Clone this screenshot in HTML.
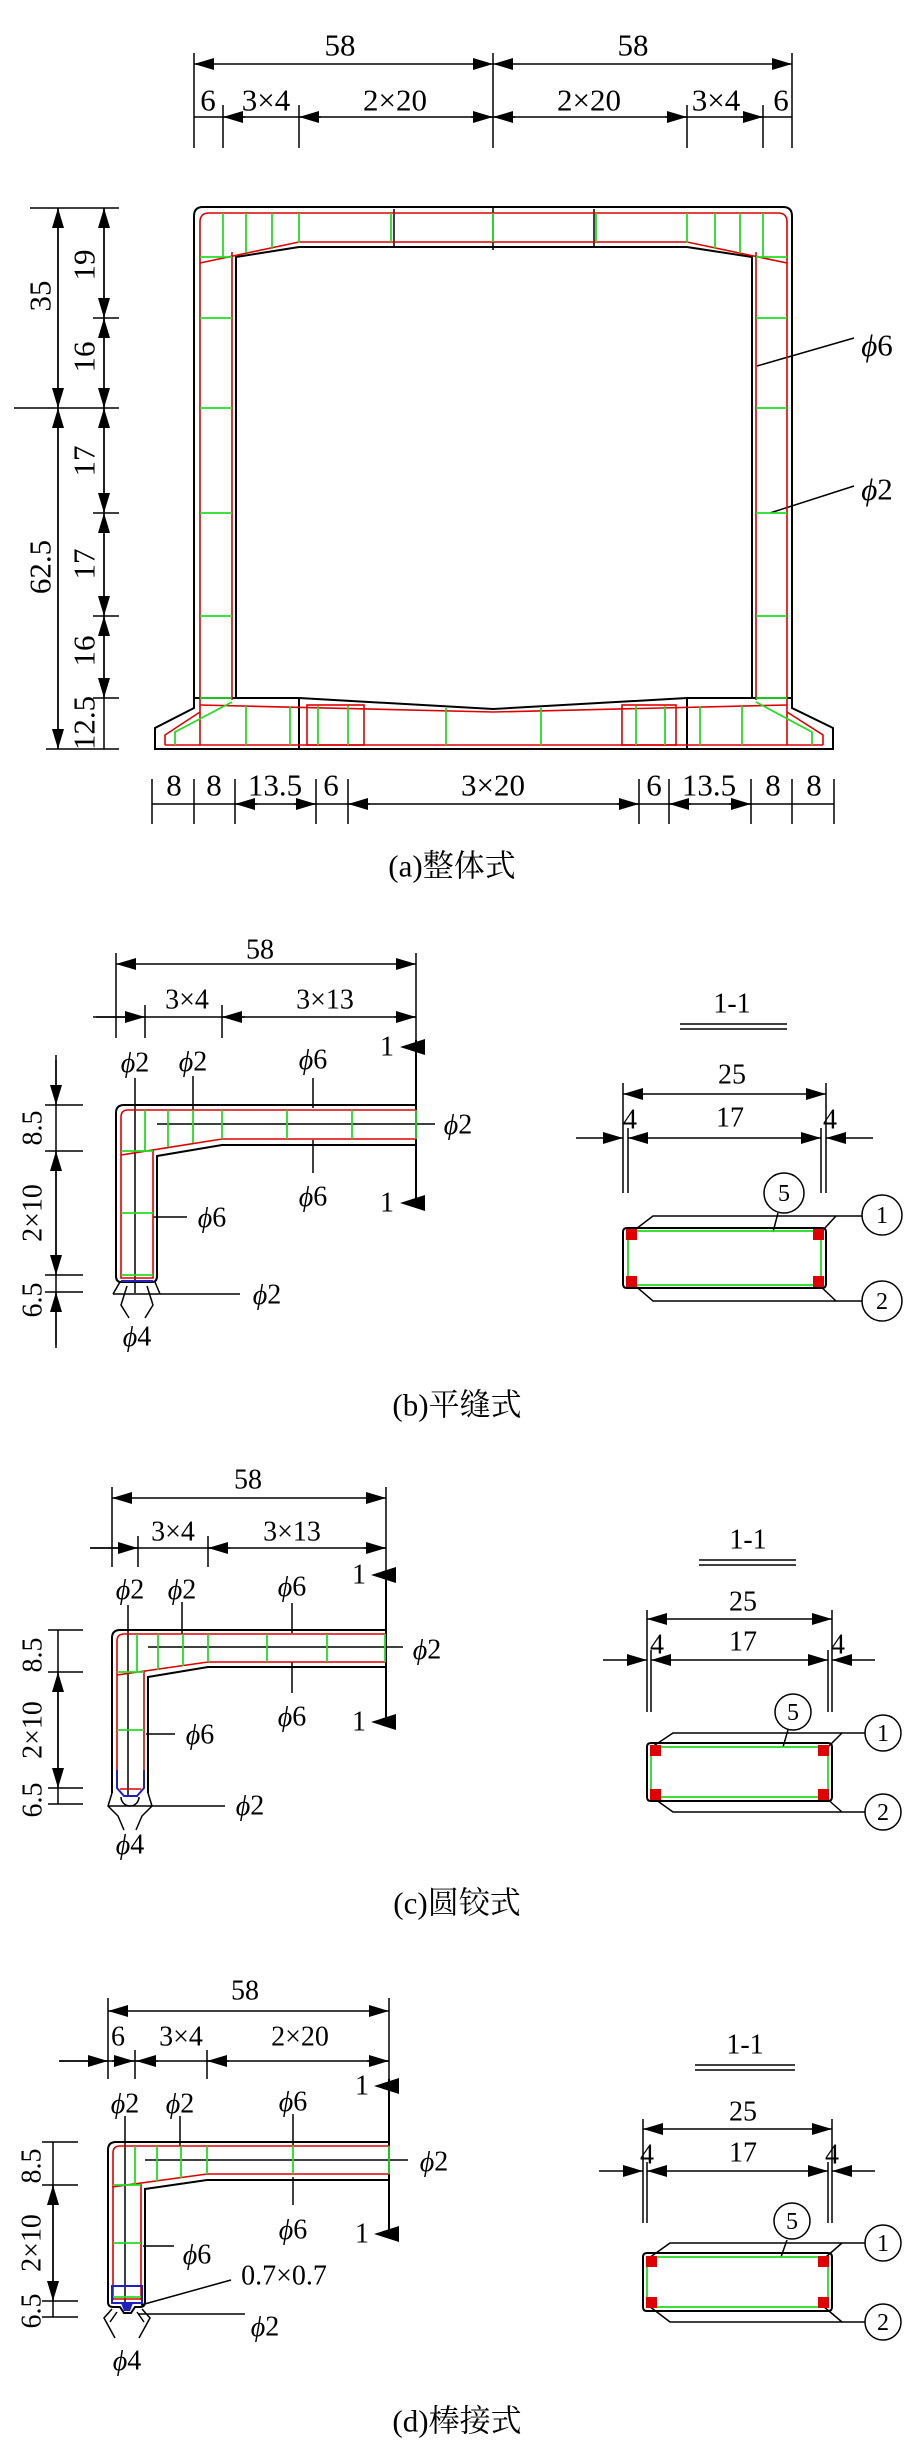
<!DOCTYPE html>
<html><head><meta charset="utf-8"><style>
html,body{margin:0;padding:0;background:#fff}
svg{display:block}
text{font-family:"Liberation Serif","Noto Serif CJK SC","DejaVu Serif",serif;fill:#000;dominant-baseline:central;text-anchor:middle}
.k{stroke:#000;stroke-width:2;fill:none}
.d{stroke:#000;stroke-width:1.5;fill:none}
.r{stroke:#e00000;stroke-width:1.6;fill:none}
.g{stroke:#22dd22;stroke-width:1.8;fill:none}
.b{stroke:#2020c0;stroke-width:2;fill:none}
.t{font-size:28px}
.ta{font-size:31px}
.c{font-size:31px}
.n{font-size:24px}
</style></head><body>
<svg width="911" height="2456" viewBox="0 0 911 2456" xmlns="http://www.w3.org/2000/svg">
<defs>
<marker id="a" viewBox="0 0 20 12" refX="20" refY="6" markerWidth="20" markerHeight="12" markerUnits="userSpaceOnUse" orient="auto-start-reverse"><path d="M0,0L20,6L0,12z" fill="#000"/></marker>
</defs>

<!-- ================= (a) ================= -->
<g class="d">
<line x1="194" y1="64" x2="493" y2="64" marker-start="url(#a)" marker-end="url(#a)"/>
<line x1="493" y1="64" x2="792" y2="64" marker-start="url(#a)" marker-end="url(#a)"/>
<line x1="194" y1="53" x2="194" y2="148"/><line x1="493" y1="53" x2="493" y2="148"/><line x1="792" y1="53" x2="792" y2="148"/>
<line x1="223" y1="105" x2="223" y2="148"/><line x1="299" y1="105" x2="299" y2="148"/><line x1="687" y1="105" x2="687" y2="148"/><line x1="763" y1="105" x2="763" y2="148"/>
<line x1="194" y1="117" x2="792" y2="117"/>
<line x1="245" y1="117" x2="223" y2="117" marker-end="url(#a)"/>
<line x1="321" y1="117" x2="299" y2="117" marker-end="url(#a)"/>
<line x1="471" y1="117" x2="493" y2="117" marker-end="url(#a)"/>
<line x1="515" y1="117" x2="493" y2="117" marker-end="url(#a)"/>
<line x1="665" y1="117" x2="687" y2="117" marker-end="url(#a)"/>
<line x1="741" y1="117" x2="763" y2="117" marker-end="url(#a)"/>
<line x1="58" y1="208" x2="58" y2="749"/><line x1="104" y1="208" x2="104" y2="749"/>
<line x1="30" y1="208" x2="119" y2="208"/><line x1="46" y1="749" x2="119" y2="749"/><line x1="14" y1="408" x2="119" y2="408"/>
<line x1="93" y1="318" x2="119" y2="318"/><line x1="93" y1="513" x2="119" y2="513"/><line x1="93" y1="616" x2="119" y2="616"/><line x1="93" y1="698" x2="119" y2="698"/>
<line x1="58" y1="208" x2="58" y2="408" marker-start="url(#a)" marker-end="url(#a)"/>
<line x1="58" y1="408" x2="58" y2="749" marker-start="url(#a)" marker-end="url(#a)"/>
<line x1="104" y1="208" x2="104" y2="318" marker-start="url(#a)" marker-end="url(#a)"/>
<line x1="104" y1="318" x2="104" y2="408" marker-start="url(#a)" marker-end="url(#a)"/>
<line x1="104" y1="408" x2="104" y2="513" marker-start="url(#a)" marker-end="url(#a)"/>
<line x1="104" y1="513" x2="104" y2="616" marker-start="url(#a)" marker-end="url(#a)"/>
<line x1="104" y1="616" x2="104" y2="698" marker-start="url(#a)" marker-end="url(#a)"/>
<line x1="152" y1="804" x2="834" y2="804"/>
<line x1="152" y1="779" x2="152" y2="824"/><line x1="194" y1="779" x2="194" y2="824"/><line x1="235" y1="779" x2="235" y2="824"/><line x1="316" y1="779" x2="316" y2="824"/><line x1="348" y1="779" x2="348" y2="824"/><line x1="639" y1="779" x2="639" y2="824"/><line x1="669" y1="779" x2="669" y2="824"/><line x1="751" y1="779" x2="751" y2="824"/><line x1="792" y1="779" x2="792" y2="824"/><line x1="834" y1="779" x2="834" y2="824"/>
<line x1="257" y1="804" x2="235" y2="804" marker-end="url(#a)"/>
<line x1="294" y1="804" x2="316" y2="804" marker-end="url(#a)"/>
<line x1="370" y1="804" x2="348" y2="804" marker-end="url(#a)"/>
<line x1="617" y1="804" x2="639" y2="804" marker-end="url(#a)"/>
<line x1="691" y1="804" x2="669" y2="804" marker-end="url(#a)"/>
<line x1="729" y1="804" x2="751" y2="804" marker-end="url(#a)"/>
<line x1="854" y1="338" x2="757" y2="366"/>
<line x1="854" y1="486" x2="770" y2="513"/>
</g>
<path class="k" d="M194,708 L194,216 Q194,207 203,207 L783,207 Q792,207 792,216 L792,708 L833,728 L833,749 L155,749 L155,728 Z"/>
<path class="k" d="M236,698 L236,257 L299,247 L687,247 L752,257 L752,698"/>
<path class="k" d="M194,698 L299,698 L493,709 L687,698 L792,698"/>
<line class="k" x1="299" y1="698" x2="299" y2="749"/><line class="k" x1="687" y1="698" x2="687" y2="749"/>
<line class="d" x1="493" y1="207" x2="493" y2="250"/>
<line class="d" x1="394" y1="209" x2="394" y2="247"/><line class="d" x1="594" y1="209" x2="594" y2="247"/>
<path class="r" d="M200,745 L200,222 Q200,213 209,213 L778,213 Q787,213 787,222 L787,745"/>
<path class="r" d="M232,700 L232,252 M200,263 L299,242 L687,242 L787,263 M756,252 L756,700"/>
<path class="r" d="M165,745 L823,745 M200,705 L493,712 L787,705"/>
<rect class="r" x="307" y="705" width="57" height="40"/><rect class="r" x="622" y="705" width="54" height="40"/>
<path class="r" d="M165,745 L165,735 L200,712 M823,745 L823,735 L787,712"/>
<g class="g">
<line x1="223" y1="213" x2="223" y2="257"/><line x1="246" y1="213" x2="246" y2="253"/><line x1="272" y1="213" x2="272" y2="249"/><line x1="299" y1="213" x2="299" y2="243"/>
<line x1="391" y1="213" x2="391" y2="242"/><line x1="493" y1="213" x2="493" y2="242"/><line x1="596" y1="213" x2="596" y2="242"/><line x1="687" y1="213" x2="687" y2="243"/>
<line x1="715" y1="213" x2="715" y2="249"/><line x1="740" y1="213" x2="740" y2="253"/><line x1="763" y1="213" x2="763" y2="257"/>
<line x1="200" y1="257" x2="232" y2="257"/><line x1="200" y1="318" x2="232" y2="318"/><line x1="200" y1="408" x2="232" y2="408"/><line x1="200" y1="513" x2="232" y2="513"/><line x1="200" y1="616" x2="232" y2="616"/><line x1="200" y1="698" x2="232" y2="698"/>
<line x1="756" y1="257" x2="787" y2="257"/><line x1="756" y1="318" x2="787" y2="318"/><line x1="756" y1="408" x2="787" y2="408"/><line x1="756" y1="513" x2="787" y2="513"/><line x1="756" y1="616" x2="787" y2="616"/><line x1="756" y1="698" x2="787" y2="698"/>
<line x1="246" y1="706" x2="246" y2="745"/><line x1="290" y1="706" x2="290" y2="745"/><line x1="318" y1="706" x2="318" y2="745"/><line x1="348" y1="706" x2="348" y2="745"/><line x1="446" y1="708" x2="446" y2="745"/><line x1="541" y1="708" x2="541" y2="745"/><line x1="636" y1="706" x2="636" y2="745"/><line x1="665" y1="706" x2="665" y2="745"/><line x1="700" y1="706" x2="700" y2="745"/><line x1="742" y1="706" x2="742" y2="745"/>
<path d="M175,745 L175,732 L232,702 M812,745 L812,732 L756,702"/>
</g>
<g class="ta">
<text x="340" y="45">58</text><text x="633" y="45">58</text>
<text x="208" y="100">6</text><text x="266" y="100">3×4</text><text x="395" y="100">2×20</text><text x="589" y="100">2×20</text><text x="716" y="100">3×4</text><text x="781" y="100">6</text>
<text transform="translate(40,296) rotate(-90)">35</text><text transform="translate(84,265) rotate(-90)">19</text><text transform="translate(84,357) rotate(-90)">16</text>
<text transform="translate(40,567) rotate(-90)">62.5</text><text transform="translate(84,461) rotate(-90)">17</text><text transform="translate(84,564) rotate(-90)">17</text><text transform="translate(84,651) rotate(-90)">16</text><text transform="translate(84,723) rotate(-90)">12.5</text>
<text x="174" y="785">8</text><text x="214" y="785">8</text><text x="275" y="785">13.5</text><text x="331" y="785">6</text><text x="493" y="785">3×20</text><text x="654" y="785">6</text><text x="709" y="785">13.5</text><text x="773" y="785">8</text><text x="814" y="785">8</text>
<text x="877" y="345"><tspan font-style="italic">ϕ</tspan>6</text><text x="877" y="489"><tspan font-style="italic">ϕ</tspan>2</text>
</g>
<text class="c" x="452" y="866">(a)整体式</text>

<!-- ================= (b) ================= -->
<g class="d">
<line x1="116" y1="964" x2="416" y2="964" marker-start="url(#a)" marker-end="url(#a)"/>
<line x1="116" y1="953" x2="116" y2="1038"/><line x1="416" y1="953" x2="416" y2="1040"/>
<line x1="93" y1="1017" x2="416" y2="1017"/>
<line x1="145" y1="1005" x2="145" y2="1038"/><line x1="222" y1="1005" x2="222" y2="1038"/>
<line x1="96" y1="1017" x2="145" y2="1017" marker-end="url(#a)"/>
<line x1="245" y1="1017" x2="222" y2="1017" marker-end="url(#a)"/>
<line x1="394" y1="1017" x2="416" y2="1017" marker-end="url(#a)"/>
<line x1="56" y1="1055" x2="56" y2="1348"/>
<line x1="45" y1="1105" x2="83" y2="1105"/><line x1="45" y1="1151" x2="83" y2="1151"/><line x1="45" y1="1275" x2="83" y2="1275"/><line x1="45" y1="1292" x2="83" y2="1292"/>
<line x1="56" y1="1060" x2="56" y2="1105" marker-end="url(#a)"/>
<line x1="56" y1="1151" x2="56" y2="1275" marker-start="url(#a)" marker-end="url(#a)"/>
<line x1="56" y1="1345" x2="56" y2="1292" marker-end="url(#a)"/>
<line x1="157" y1="1124" x2="435" y2="1124"/>
<line x1="135" y1="1078" x2="135" y2="1293"/>
<line x1="193" y1="1076" x2="193" y2="1110"/>
<line x1="313" y1="1078" x2="313" y2="1108"/><line x1="313" y1="1140" x2="313" y2="1173"/>
<line x1="153" y1="1217" x2="187" y2="1217"/>
<line x1="113" y1="1294" x2="240" y2="1294"/>
<path d="M120,1282 L113,1294 M155,1282 L160,1294 M127,1286 L121,1305 L129,1318 M147,1286 L153,1305 L145,1318"/>
</g>
<line class="k" x1="416" y1="1040" x2="416" y2="1207"/>
<polygon points="400,1047 425,1039 425,1055"/><polygon points="400,1203 425,1195 425,1211"/>
<path class="k" d="M416,1105 L124,1105 Q116,1105 116,1113 L116,1276 Q116,1282 121,1282 L152,1282 Q157,1282 157,1276 L157,1156 L222,1145 L416,1145"/>
<path class="r" d="M416,1110 L128,1110 Q121,1110 121,1117 L121,1278 L153,1278 L153,1150 M416,1139 L222,1139 L121,1155"/>
<g class="g">
<line x1="145" y1="1110" x2="145" y2="1151"/><line x1="168" y1="1110" x2="168" y2="1147"/><line x1="193" y1="1110" x2="193" y2="1143"/><line x1="222" y1="1110" x2="222" y2="1139"/><line x1="287" y1="1110" x2="287" y2="1139"/><line x1="352" y1="1110" x2="352" y2="1139"/><line x1="416" y1="1110" x2="416" y2="1139"/>
<line x1="121" y1="1151" x2="153" y2="1151"/><line x1="121" y1="1213" x2="153" y2="1213"/><line x1="121" y1="1275" x2="153" y2="1275"/>
</g>
<line class="b" x1="121" y1="1281" x2="153" y2="1281" stroke-width="3"/>
<g class="t">
<text x="260" y="950">58</text><text x="187" y="1000">3×4</text><text x="325" y="1000">3×13</text>
<text x="387" y="1047">1</text><text x="387" y="1203">1</text>
<text transform="translate(33,1128) rotate(-90)">8.5</text><text transform="translate(33,1213) rotate(-90)">2×10</text><text transform="translate(33,1300) rotate(-90)">6.5</text>
<text x="135" y="1063"><tspan font-style="italic">ϕ</tspan>2</text><text x="193" y="1062"><tspan font-style="italic">ϕ</tspan>2</text><text x="313" y="1060"><tspan font-style="italic">ϕ</tspan>6</text>
<text x="313" y="1197"><tspan font-style="italic">ϕ</tspan>6</text><text x="458" y="1125"><tspan font-style="italic">ϕ</tspan>2</text><text x="212" y="1218"><tspan font-style="italic">ϕ</tspan>6</text>
<text x="267" y="1295"><tspan font-style="italic">ϕ</tspan>2</text><text x="137" y="1337"><tspan font-style="italic">ϕ</tspan>4</text>
</g>
<g class="d">
<line x1="680" y1="1024" x2="787" y2="1024"/><line x1="680" y1="1029" x2="787" y2="1029"/>
<line x1="623" y1="1094" x2="826" y2="1094" marker-start="url(#a)" marker-end="url(#a)"/>
<line x1="623" y1="1083" x2="623" y2="1193"/><line x1="826" y1="1083" x2="826" y2="1193"/>
<line x1="628" y1="1128" x2="628" y2="1193"/><line x1="821" y1="1128" x2="821" y2="1193"/>
<line x1="628" y1="1138" x2="821" y2="1138" marker-start="url(#a)" marker-end="url(#a)"/>
<line x1="576" y1="1138" x2="623" y2="1138" marker-end="url(#a)"/>
<line x1="873" y1="1138" x2="826" y2="1138" marker-end="url(#a)"/>
<path class="k" d="M627,1228 L822,1228 Q826,1228 826,1232 L826,1284 Q826,1288 822,1288 L627,1288 Q623,1288 623,1284 L623,1232 Q623,1228 627,1228 Z"/>
<path d="M632,1232 L653,1216 L862,1216 M823,1230 L836,1216 M632,1283 L653,1301 L862,1301 M817,1283 L836,1301 M778,1213 L773,1232"/>
<circle cx="882" cy="1215" r="20"/><circle cx="882" cy="1301" r="20"/><circle cx="784" cy="1193" r="20"/>
</g>
<rect class="g" x="628" y="1231" width="193" height="54"/>
<g fill="#e00000"><rect x="626" y="1229" width="11" height="11"/><rect x="813" y="1229" width="11" height="11"/><rect x="626" y="1276" width="11" height="11"/><rect x="813" y="1276" width="11" height="11"/></g>
<g class="t"><text x="732" y="1004">1-1</text><text x="732" y="1075">25</text><text x="730" y="1118">17</text><text x="630" y="1120">4</text><text x="830" y="1120">4</text></g>
<g class="n"><text x="882" y="1216">1</text><text x="882" y="1302">2</text><text x="784" y="1194">5</text></g>
<text class="c" x="457" y="1405">(b)平缝式</text>

<!-- ================= (c) ================= -->
<g class="d">
<line x1="112" y1="1498" x2="386" y2="1498" marker-start="url(#a)" marker-end="url(#a)"/>
<line x1="112" y1="1487" x2="112" y2="1567"/><line x1="386" y1="1487" x2="386" y2="1570"/>
<line x1="90" y1="1548" x2="386" y2="1548"/>
<line x1="138" y1="1536" x2="138" y2="1567"/><line x1="208" y1="1536" x2="208" y2="1567"/>
<line x1="90" y1="1548" x2="138" y2="1548" marker-end="url(#a)"/>
<line x1="230" y1="1548" x2="208" y2="1548" marker-end="url(#a)"/>
<line x1="364" y1="1548" x2="386" y2="1548" marker-end="url(#a)"/>
<line x1="58" y1="1630" x2="58" y2="1804"/>
<line x1="48" y1="1630" x2="83" y2="1630"/><line x1="48" y1="1672" x2="83" y2="1672"/><line x1="48" y1="1788" x2="83" y2="1788"/><line x1="48" y1="1804" x2="83" y2="1804"/>
<line x1="58" y1="1672" x2="58" y2="1788" marker-start="url(#a)" marker-end="url(#a)"/>
<line x1="148" y1="1647" x2="403" y2="1647"/>
<line x1="128" y1="1605" x2="128" y2="1797"/>
<line x1="182" y1="1602" x2="182" y2="1634"/>
<line x1="292" y1="1603" x2="292" y2="1633"/><line x1="292" y1="1662" x2="292" y2="1693"/>
<line x1="146" y1="1734" x2="175" y2="1734"/>
<line x1="150" y1="1806" x2="225" y2="1806"/>
<path d="M112,1793 L108,1806 L118,1816 L124,1830 M148,1793 L152,1806 L142,1816 L136,1830 M108,1806 L152,1806"/>
<path d="M121,1797 A9,9 0 0 0 139,1797"/>
</g>
<line class="k" x1="386" y1="1570" x2="386" y2="1723"/>
<polygon points="371,1575 396,1567 396,1583"/><polygon points="371,1722 396,1714 396,1730"/>
<path class="k" d="M386,1630 L120,1630 Q112,1630 112,1638 L112,1793 M148,1793 L148,1677 L208,1667 L386,1667"/>
<path class="r" d="M386,1634 L124,1634 Q117,1634 117,1641 L117,1770 M144,1770 L144,1671 M386,1662 L208,1662 L117,1675 M120,1789 L141,1789"/>
<path class="b" d="M117,1770 L117,1788 L124,1796 L137,1796 L144,1788 L144,1770"/>
<g class="g">
<line x1="137" y1="1634" x2="137" y2="1673"/><line x1="158" y1="1634" x2="158" y2="1670"/><line x1="183" y1="1634" x2="183" y2="1666"/><line x1="208" y1="1634" x2="208" y2="1662"/><line x1="267" y1="1634" x2="267" y2="1662"/><line x1="327" y1="1634" x2="327" y2="1662"/><line x1="385" y1="1634" x2="385" y2="1662"/>
<line x1="117" y1="1672" x2="144" y2="1672"/><line x1="117" y1="1730" x2="144" y2="1730"/>
</g>
<g class="t">
<text x="248" y="1480">58</text><text x="173" y="1532">3×4</text><text x="292" y="1532">3×13</text>
<text x="359" y="1575">1</text><text x="359" y="1722">1</text>
<text transform="translate(33,1655) rotate(-90)">8.5</text><text transform="translate(33,1730) rotate(-90)">2×10</text><text transform="translate(33,1800) rotate(-90)">6.5</text>
<text x="130" y="1590"><tspan font-style="italic">ϕ</tspan>2</text><text x="182" y="1590"><tspan font-style="italic">ϕ</tspan>2</text><text x="292" y="1587"><tspan font-style="italic">ϕ</tspan>6</text>
<text x="292" y="1717"><tspan font-style="italic">ϕ</tspan>6</text><text x="427" y="1650"><tspan font-style="italic">ϕ</tspan>2</text><text x="200" y="1735"><tspan font-style="italic">ϕ</tspan>6</text>
<text x="250" y="1806"><tspan font-style="italic">ϕ</tspan>2</text><text x="130" y="1845"><tspan font-style="italic">ϕ</tspan>4</text>
</g>
<g class="d">
<line x1="699" y1="1560" x2="796" y2="1560"/><line x1="699" y1="1565" x2="796" y2="1565"/>
<line x1="647" y1="1619" x2="832" y2="1619" marker-start="url(#a)" marker-end="url(#a)"/>
<line x1="647" y1="1610" x2="647" y2="1712"/><line x1="832" y1="1610" x2="832" y2="1712"/>
<line x1="651" y1="1650" x2="651" y2="1712"/><line x1="828" y1="1650" x2="828" y2="1712"/>
<line x1="651" y1="1660" x2="828" y2="1660" marker-start="url(#a)" marker-end="url(#a)"/>
<line x1="603" y1="1660" x2="647" y2="1660" marker-end="url(#a)"/>
<line x1="875" y1="1660" x2="832" y2="1660" marker-end="url(#a)"/>
<path class="k" d="M651,1743 L828,1743 Q832,1743 832,1747 L832,1797 Q832,1801 828,1801 L651,1801 Q647,1801 647,1797 L647,1747 Q647,1743 651,1743 Z"/>
<path d="M652,1747 L673,1733 L865,1733 M828,1747 L842,1733 M652,1797 L673,1812 L865,1812 M825,1797 L842,1812 M788,1730 L783,1747"/>
<circle cx="883" cy="1733" r="18"/><circle cx="883" cy="1812" r="18"/><circle cx="793" cy="1712" r="18"/>
</g>
<rect class="g" x="651" y="1747" width="177" height="50"/>
<g fill="#e00000"><rect x="650" y="1745" width="11" height="11"/><rect x="818" y="1745" width="11" height="11"/><rect x="650" y="1789" width="11" height="11"/><rect x="818" y="1789" width="11" height="11"/></g>
<g class="t"><text x="748" y="1540">1-1</text><text x="743" y="1602">25</text><text x="743" y="1642">17</text><text x="657" y="1645">4</text><text x="838" y="1645">4</text></g>
<g class="n"><text x="883" y="1734">1</text><text x="883" y="1813">2</text><text x="793" y="1713">5</text></g>
<text class="c" x="457" y="1903">(c)圆铰式</text>

<!-- ================= (d) ================= -->
<g class="d">
<line x1="108" y1="2011" x2="389" y2="2011" marker-start="url(#a)" marker-end="url(#a)"/>
<line x1="108" y1="1998" x2="108" y2="2079"/><line x1="389" y1="1998" x2="389" y2="2079"/>
<line x1="59" y1="2061" x2="389" y2="2061"/>
<line x1="135" y1="2050" x2="135" y2="2079"/><line x1="207" y1="2050" x2="207" y2="2079"/>
<line x1="59" y1="2061" x2="108" y2="2061" marker-end="url(#a)"/>
<line x1="112" y1="2061" x2="134" y2="2061" marker-end="url(#a)"/>
<line x1="158" y1="2061" x2="136" y2="2061" marker-end="url(#a)"/>
<line x1="229" y1="2061" x2="207" y2="2061" marker-end="url(#a)"/>
<line x1="367" y1="2061" x2="389" y2="2061" marker-end="url(#a)"/>
<line x1="53" y1="2142" x2="53" y2="2317"/>
<line x1="42" y1="2142" x2="78" y2="2142"/><line x1="42" y1="2185" x2="78" y2="2185"/><line x1="42" y1="2301" x2="78" y2="2301"/><line x1="42" y1="2317" x2="78" y2="2317"/>
<line x1="53" y1="2185" x2="53" y2="2301" marker-start="url(#a)" marker-end="url(#a)"/>
<line x1="145" y1="2160" x2="408" y2="2160"/>
<line x1="125" y1="2116" x2="125" y2="2302"/>
<line x1="180" y1="2116" x2="180" y2="2146"/>
<line x1="293" y1="2114" x2="293" y2="2145"/><line x1="293" y1="2177" x2="293" y2="2205"/>
<line x1="143" y1="2246" x2="174" y2="2246"/>
<line x1="231" y1="2280" x2="141" y2="2305"/>
<line x1="138" y1="2314" x2="245" y2="2314"/>
<path d="M112,2309 L104,2318 L115,2338 M142,2309 L150,2318 L139,2338 M117,2312 L110,2322 M137,2312 L144,2322"/>
</g>
<line class="k" x1="389" y1="2079" x2="389" y2="2234"/>
<polygon points="374,2086 399,2078 399,2094"/><polygon points="374,2234 399,2226 399,2242"/>
<path class="k" d="M389,2142 L116,2142 Q108,2142 108,2150 L108,2302 Q108,2307 113,2307 L120,2307 L124,2313 L131,2313 L135,2307 L140,2307 Q145,2307 145,2302 L145,2189 L207,2180 L389,2180"/>
<path class="r" d="M389,2146 L120,2146 Q113,2146 113,2153 L113,2300 M141,2300 L141,2184 M389,2174 L207,2174 L112,2187 M113,2299 L141,2299"/>
<rect class="b" x="112" y="2286" width="30" height="17"/>
<polygon points="121,2303 133,2303 130,2311 124,2311" fill="#2020c0"/>
<g class="g">
<line x1="135" y1="2146" x2="135" y2="2185"/><line x1="157" y1="2146" x2="157" y2="2182"/><line x1="181" y1="2146" x2="181" y2="2178"/><line x1="207" y1="2146" x2="207" y2="2174"/><line x1="293" y1="2146" x2="293" y2="2174"/><line x1="389" y1="2146" x2="389" y2="2174"/>
<line x1="113" y1="2185" x2="141" y2="2185"/><line x1="113" y1="2243" x2="141" y2="2243"/><line x1="113" y1="2297" x2="141" y2="2297"/>
</g>
<g class="t">
<text x="245" y="1991">58</text><text x="118" y="2037">6</text><text x="181" y="2037">3×4</text><text x="300" y="2037">2×20</text>
<text x="362" y="2086">1</text><text x="362" y="2234">1</text>
<text transform="translate(32,2166) rotate(-90)">8.5</text><text transform="translate(32,2243) rotate(-90)">2×10</text><text transform="translate(32,2311) rotate(-90)">6.5</text>
<text x="125" y="2104"><tspan font-style="italic">ϕ</tspan>2</text><text x="180" y="2104"><tspan font-style="italic">ϕ</tspan>2</text><text x="293" y="2102"><tspan font-style="italic">ϕ</tspan>6</text>
<text x="293" y="2230"><tspan font-style="italic">ϕ</tspan>6</text><text x="434" y="2162"><tspan font-style="italic">ϕ</tspan>2</text><text x="197" y="2255"><tspan font-style="italic">ϕ</tspan>6</text>
<text x="284" y="2276">0.7×0.7</text>
<text x="265" y="2327"><tspan font-style="italic">ϕ</tspan>2</text><text x="127" y="2361"><tspan font-style="italic">ϕ</tspan>4</text>
</g>
<g class="d">
<line x1="695" y1="2065" x2="795" y2="2065"/><line x1="695" y1="2070" x2="795" y2="2070"/>
<line x1="643" y1="2129" x2="832" y2="2129" marker-start="url(#a)" marker-end="url(#a)"/>
<line x1="643" y1="2119" x2="643" y2="2223"/><line x1="832" y1="2119" x2="832" y2="2223"/>
<line x1="647" y1="2162" x2="647" y2="2223"/><line x1="828" y1="2162" x2="828" y2="2223"/>
<line x1="647" y1="2171" x2="828" y2="2171" marker-start="url(#a)" marker-end="url(#a)"/>
<line x1="599" y1="2171" x2="643" y2="2171" marker-end="url(#a)"/>
<line x1="875" y1="2171" x2="832" y2="2171" marker-end="url(#a)"/>
<path class="k" d="M647,2253 L828,2253 Q832,2253 832,2257 L832,2307 Q832,2311 828,2311 L647,2311 Q643,2311 643,2307 L643,2257 Q643,2253 647,2253 Z"/>
<path d="M649,2258 L670,2243 L865,2243 M826,2257 L842,2243 M649,2306 L670,2322 L865,2322 M823,2306 L842,2322 M787,2240 L781,2257"/>
<circle cx="883" cy="2243" r="18"/><circle cx="883" cy="2322" r="18"/><circle cx="792" cy="2221" r="18"/>
</g>
<rect class="g" x="647" y="2257" width="181" height="50"/>
<g fill="#e00000"><rect x="646" y="2256" width="11" height="11"/><rect x="818" y="2256" width="11" height="11"/><rect x="646" y="2297" width="11" height="11"/><rect x="818" y="2297" width="11" height="11"/></g>
<g class="t"><text x="745" y="2045">1-1</text><text x="743" y="2112">25</text><text x="743" y="2153">17</text><text x="647" y="2155">4</text><text x="832" y="2155">4</text></g>
<g class="n"><text x="883" y="2244">1</text><text x="883" y="2323">2</text><text x="792" y="2222">5</text></g>
<text class="c" x="457" y="2421">(d)棒接式</text>
</svg>
</body></html>
